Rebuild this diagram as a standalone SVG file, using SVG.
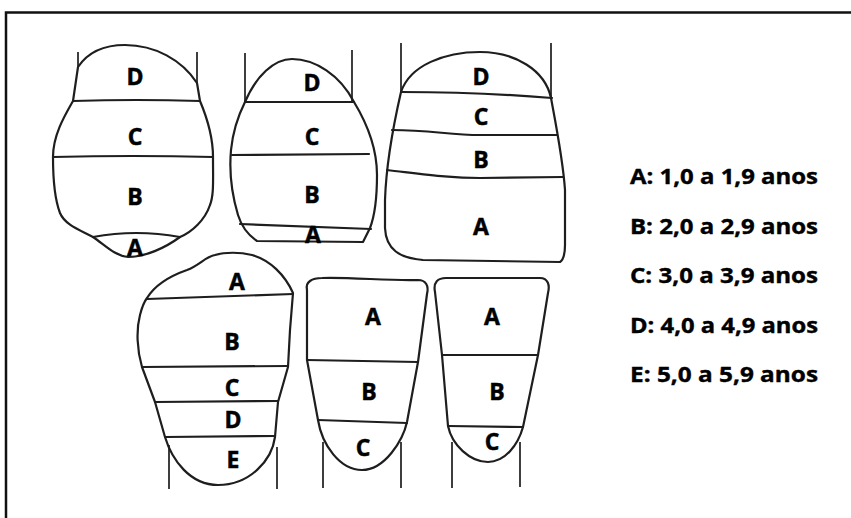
<svg xmlns="http://www.w3.org/2000/svg" width="851" height="518" viewBox="0 0 851 518">
  <style>
    .ln { fill: none; stroke: #1e1e1e; stroke-width: 2.2; stroke-linejoin: round; stroke-linecap: round; }
    .root { fill: none; stroke: #1e1e1e; stroke-width: 1.7; }
    .lbl { font-family: "Open Sans", Lato, sans-serif; font-weight: bold; font-size: 23px; fill: #000; stroke: #000; stroke-width: 0.5; text-anchor: middle; }
    .key { font-family: "Open Sans", Lato, sans-serif; font-weight: bold; font-size: 22px; fill: #000; stroke: #000; stroke-width: 0.4; }
  </style>
  <rect width="851" height="518" fill="#fff"/>
  <!-- frame -->
  <path d="M6,518 V12.5 H851" fill="none" stroke="#111" stroke-width="2.5"/>

  <!-- tooth 1 -->
  <g id="tooth1">
    <path class="root" d="M78,52 V67 M197,52 V83"/>
    <path class="ln" d="M78,67 C88,52 105,45 125,45 C155,45 182,60 197,83 L200,101 C208,120 213,140 213,157 C213,180 214,195 210,205 C205,220 192,232 180,237 C165,248 145,257 128,257 C115,256 105,245 93,237 C80,230 65,225 60,213 C55,200 53,180 53,157 C53,135 65,115 73,101 Z"/>
    <path class="ln" d="M73,101 Q136,99 200,101 M53,157 Q133,155 213,157 M93,237 Q136,229 180,237"/>
    <text class="lbl" x="135" y="85">D</text>
    <text class="lbl" x="135" y="145">C</text>
    <text class="lbl" x="135" y="205">B</text>
    <text class="lbl" x="135" y="256">A</text>
  </g>

  <!-- tooth 2 -->
  <g id="tooth2">
    <path class="root" d="M245,53 V102 M352,50 V102"/>
    <path class="ln" d="M245,102 C256,76 274,59 292,59 C315,59 340,75 354,102 C368,125 377,150 377,175 C377,200 375,215 370,228 L363,242 L257,241 C248,235 242,228 238,215 C232,195 229,172 231,150 C233,130 240,112 245,102 Z"/>
    <path class="ln" d="M245,102 L354,102 M232,155 L369,154 M240,224 L371,229"/>
    <text class="lbl" x="312" y="91">D</text>
    <text class="lbl" x="312" y="145">C</text>
    <text class="lbl" x="312" y="203">B</text>
    <text class="lbl" x="313" y="243">A</text>
  </g>

  <!-- tooth 3 -->
  <g id="tooth3">
    <path class="root" d="M401,43 V92 M551,43 V98"/>
    <path class="ln" d="M401,92 C410,65 445,52 480,52 C515,52 545,70 551,98 C556,125 563,160 565,190 L565,245 C565,255 563,260 560,262 L423,260 C400,258 386,250 385,228 L385,200 C386,170 390,140 401,92 Z"/>
    <path class="ln" d="M401,92 Q480,92 552,98 M392,130 C430,130 450,135 480,135 L557,135 M387,170 C430,175 450,178 480,178 L563,177"/>
    <text class="lbl" x="481" y="85">D</text>
    <text class="lbl" x="481" y="125">C</text>
    <text class="lbl" x="481" y="168">B</text>
    <text class="lbl" x="481" y="235">A</text>
  </g>

  <!-- tooth 4 -->
  <g id="tooth4">
    <path class="root" d="M169,445 V489 M277,447 V489"/>
    <path class="ln" d="M147,298 C155,285 170,276 187,270 C200,265 205,257 215,255 C225,252 240,252 252,255 C270,260 285,275 293,293 L290,330 L288,367 L278,402 L275,437 C272,460 250,485 218,485 C190,485 172,460 165,437 L155,402 L142,367 C137,350 136,330 140,315 C142,307 144,302 147,298 Z"/>
    <path class="ln" d="M147,299 L293,294 M142,367 L288,366 M155,402 L278,401 M165,437 L275,436"/>
    <text class="lbl" x="237" y="290">A</text>
    <text class="lbl" x="232" y="350">B</text>
    <text class="lbl" x="232" y="396">C</text>
    <text class="lbl" x="233" y="428">D</text>
    <text class="lbl" x="233" y="468">E</text>
  </g>

  <!-- tooth 5 -->
  <g id="tooth5">
    <path class="root" d="M323,442 V488 M401,442 V488"/>
    <path class="ln" d="M307,290 C305,282 312,278 322,278 C350,277 390,281 418,280 C426,280 429,286 427,294 L418,362 L407,422 C403,440 385,470 362,470 C340,470 322,445 318,420 L307,360 Z"/>
    <path class="ln" d="M307,360 L418,362 M318,420 L407,423"/>
    <text class="lbl" x="373" y="325">A</text>
    <text class="lbl" x="369" y="400">B</text>
    <text class="lbl" x="363" y="456">C</text>
  </g>

  <!-- tooth 6 -->
  <g id="tooth6">
    <path class="root" d="M452,442 V488 M520,442 V487"/>
    <path class="ln" d="M435,292 C433,282 438,278 446,278 L540,278 C548,278 550,285 548,293 L538,355 L523,427 C518,445 505,462 488,462 C470,462 452,445 448,426 L442,355 Z"/>
    <path class="ln" d="M442,355 L538,355 M448,426 L523,427"/>
    <text class="lbl" x="492" y="325">A</text>
    <text class="lbl" x="497" y="400">B</text>
    <text class="lbl" x="492" y="450">C</text>
  </g>

  <!-- age key -->
  <g id="legend">
    <text class="key" x="630" y="184" textLength="188" lengthAdjust="spacingAndGlyphs">A: 1,0 a 1,9 anos</text>
    <text class="key" x="630" y="234" textLength="188" lengthAdjust="spacingAndGlyphs">B: 2,0 a 2,9 anos</text>
    <text class="key" x="630" y="283" textLength="188" lengthAdjust="spacingAndGlyphs">C: 3,0 a 3,9 anos</text>
    <text class="key" x="630" y="333" textLength="188" lengthAdjust="spacingAndGlyphs">D: 4,0 a 4,9 anos</text>
    <text class="key" x="630" y="382" textLength="188" lengthAdjust="spacingAndGlyphs">E: 5,0 a 5,9 anos</text>
  </g>
</svg>
